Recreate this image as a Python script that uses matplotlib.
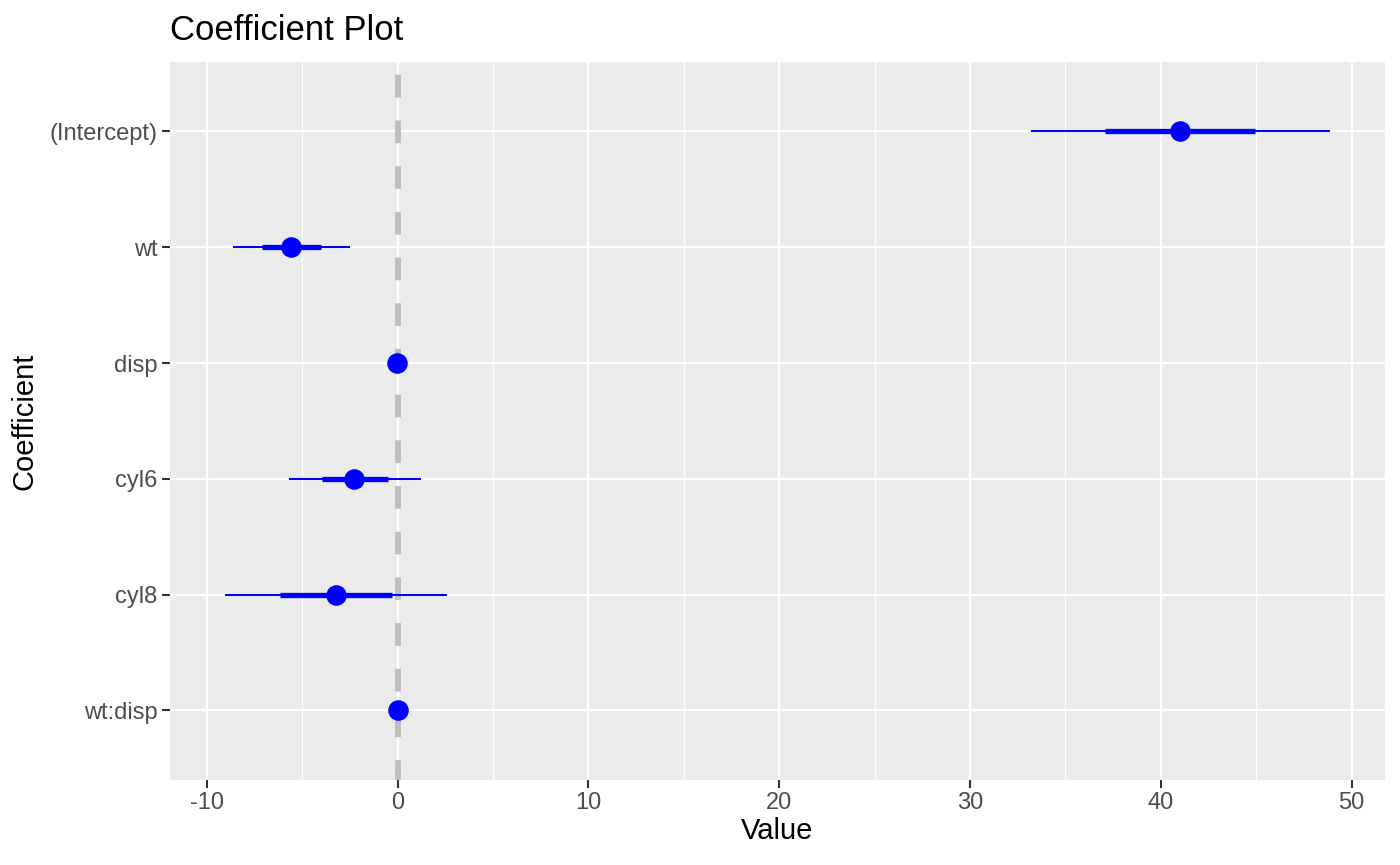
import numpy as np
import matplotlib
matplotlib.use("Agg")
import matplotlib.pyplot as plt
from matplotlib.ticker import MultipleLocator

plt.rcParams['font.family'] = ['Liberation Sans', 'DejaVu Sans']

# coefficients, top to bottom
coefs = ["(Intercept)", "wt", "disp", "cyl6", "cyl8", "wt:disp"]
estimate = [41.03, -5.59, -0.04, -2.27, -3.23, 0.0]
inner_low = [37.10, -7.10, -0.05, -3.96, -6.15, -0.01]
inner_high = [44.95, -4.03, -0.03, -0.52, -0.31, 0.01]
outer_low = [33.20, -8.64, -0.06, -5.69, -9.04, -0.02]
outer_high = [48.86, -2.51, -0.02, 1.20, 2.58, 0.02]

xticks = [-10, 0, 10, 20, 30, 40, 50]

blue = "#0000FF"
bg = "#EBEBEB"

fig = plt.figure(figsize=(14, 8.65), dpi=100)
ax = fig.add_axes([0.1214, 0.0983, 0.8679, 0.8300])
ax.set_facecolor(bg)
for s in ax.spines.values():
    s.set_visible(False)

ypos = np.arange(len(coefs))[::-1] + 1

# grid
ax.xaxis.set_major_locator(MultipleLocator(10))
ax.xaxis.set_minor_locator(MultipleLocator(5))
ax.grid(which="major", color="white", linewidth=1.6, zorder=0)
ax.grid(which="minor", axis="x", color="white", linewidth=0.8, zorder=0)
ax.set_axisbelow(True)

# zero line, dashes drawn from the top of the panel
ax.axvline(0, ymin=1, ymax=0, color="#BEBEBE", linewidth=4.3,
           linestyle=(5.5, (3.8, 3.85)), zorder=1)

# intervals and points
ax.hlines(ypos, outer_low, outer_high, color=blue, linewidth=1.45, zorder=2)
ax.hlines(ypos, inner_low, inner_high, color=blue, linewidth=3.8, zorder=3)
ax.plot(estimate, ypos, "o", color=blue, markersize=13.8, zorder=4)

# limits like ggplot expansion
lo, hi = min(outer_low), max(outer_high)
pad = (hi - lo) * 0.05
ax.set_xlim(lo - pad, hi + pad)
ax.set_ylim(0.4, len(coefs) + 0.6)

ax.set_xticks(xticks)
ax.set_xticklabels([str(t) for t in xticks])
ax.set_yticks(ypos)
ax.set_yticklabels(coefs)
ax.tick_params(which="major", length=5.5, width=1.5, color="#333333",
               labelcolor="#4D4D4D", labelsize=17, pad=3.5)
ax.tick_params(which="minor", length=0)

ax.set_xlabel("Value", fontsize=21, color="black", labelpad=2)
ax.set_ylabel("Coefficient", fontsize=21, color="black", labelpad=8)
ax.set_title("Coefficient Plot", fontsize=25, loc="left", pad=16)

fig.savefig("out.png", dpi=100)
